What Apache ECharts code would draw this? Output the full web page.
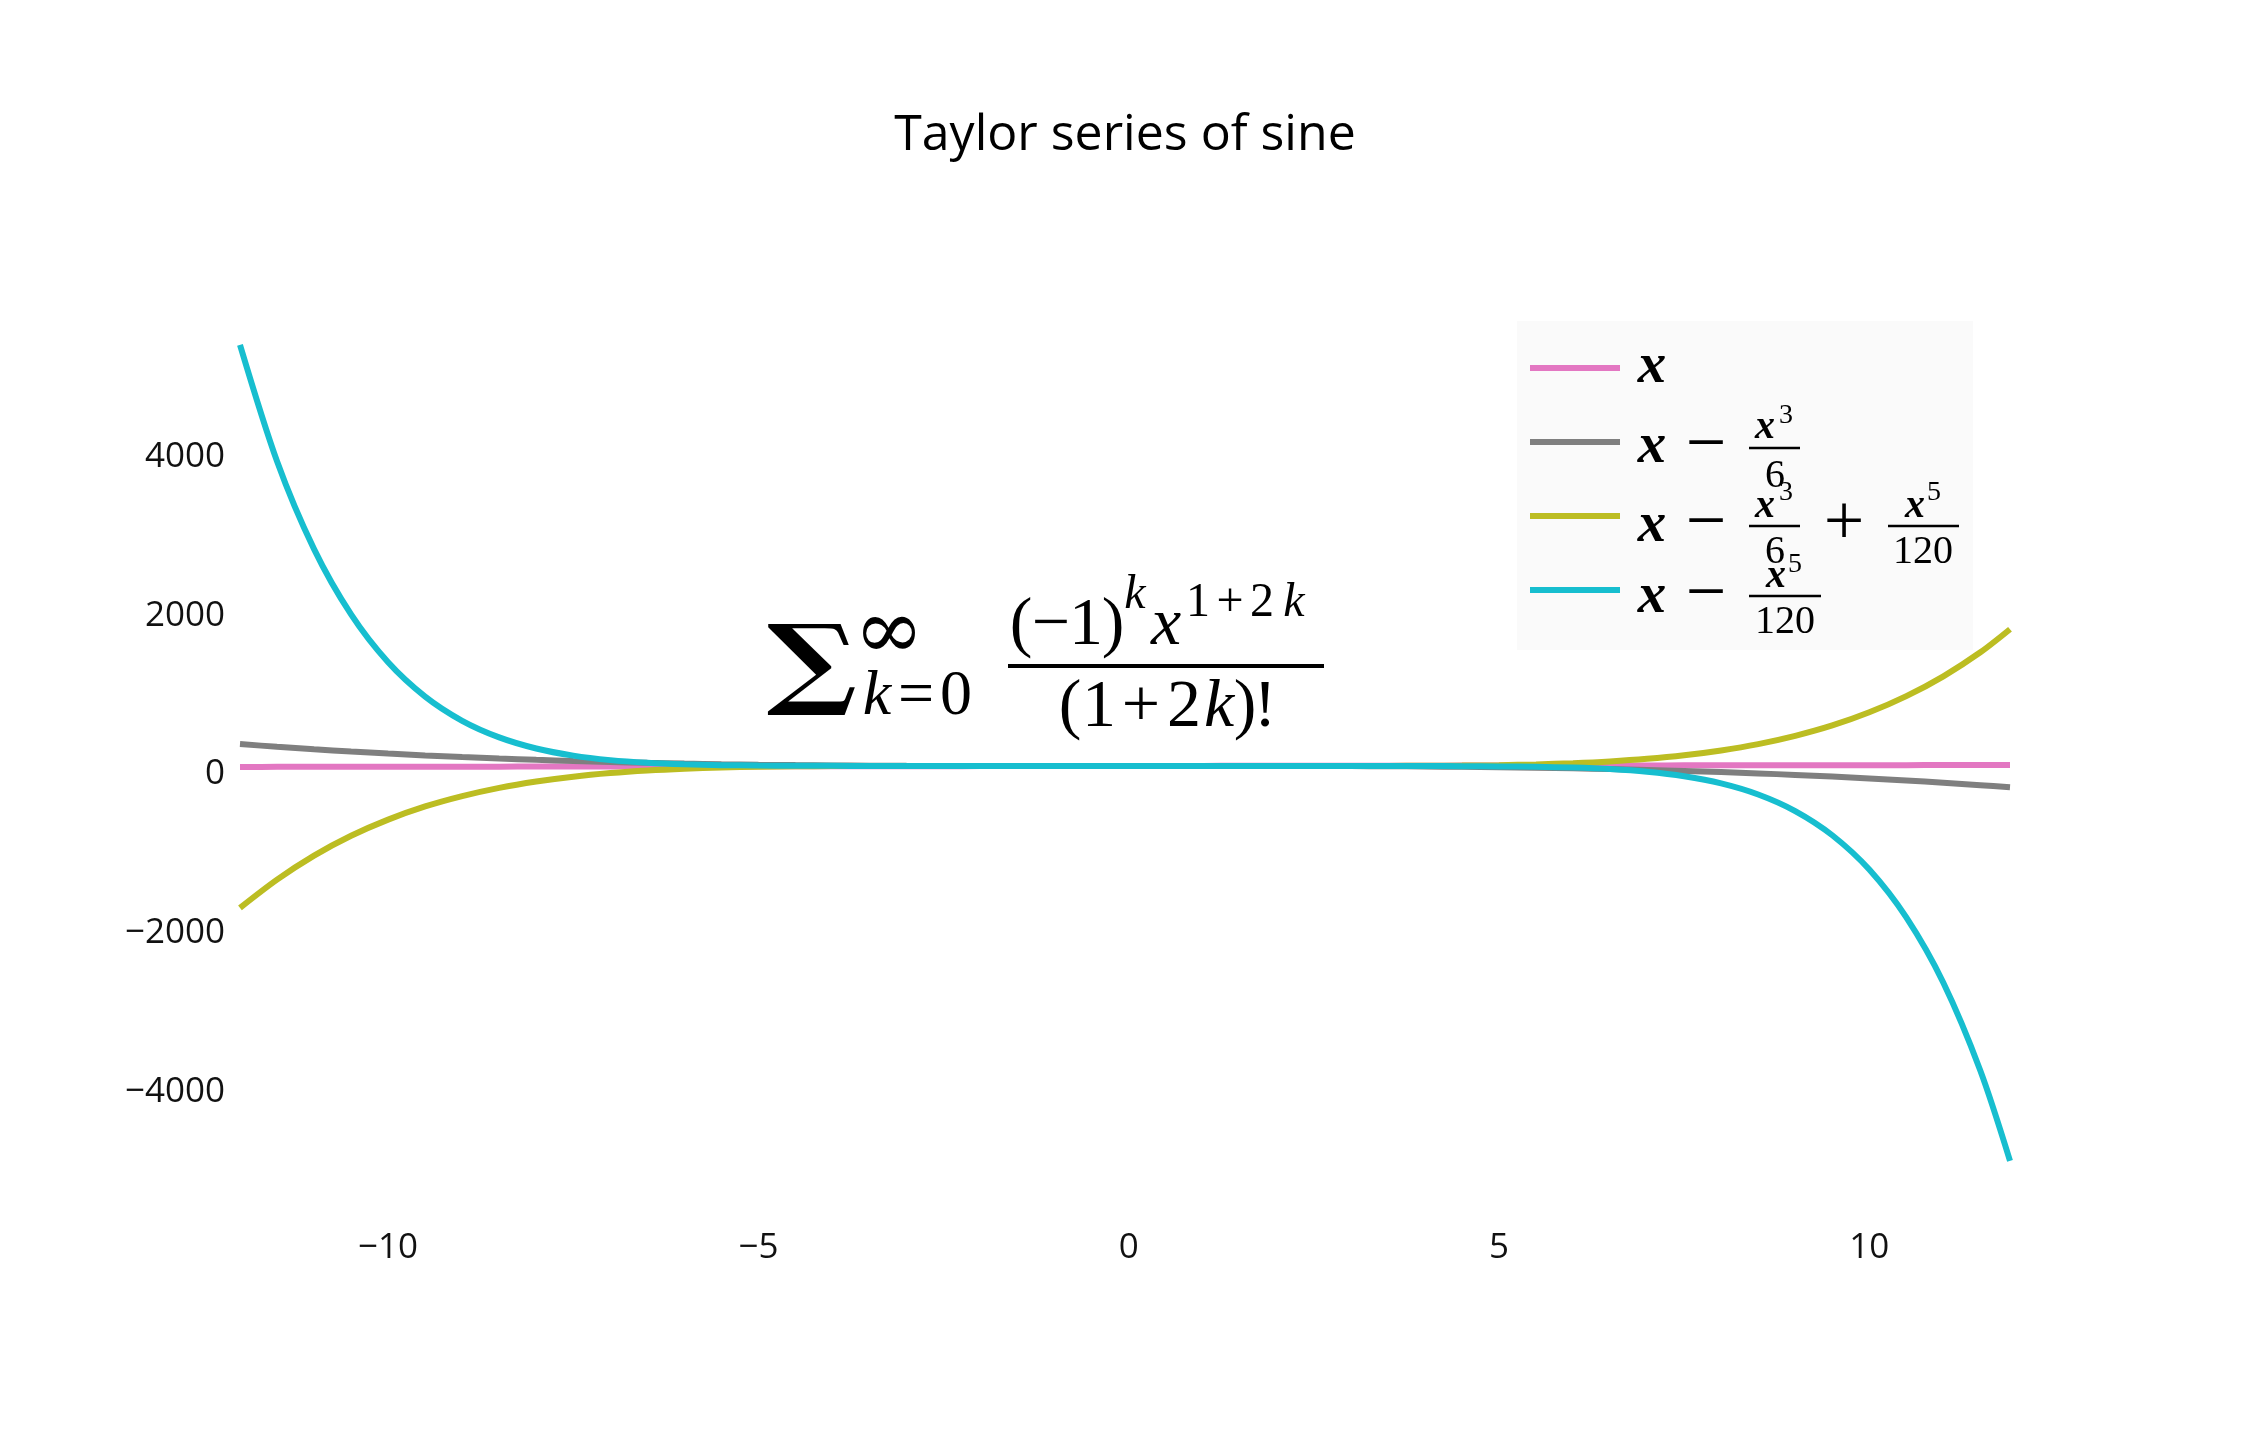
<!DOCTYPE html>
<html>
<head>
<meta charset="utf-8">
<title>Taylor series of sine</title>
<script src="https://cdn.jsdelivr.net/npm/echarts@6/dist/echarts.min.js"></script>
<style>
  html, body { margin: 0; padding: 0; background: #fff; }
  #chart { width: 2250px; height: 1446px; }
</style>
</head>
<body>
<div id="chart"></div>
<script>
// values
const xValues = [-12, -11.5, -11, -10.5, -10, -9.5, -9, -8.5, -8, -7.5, -7, -6.5, -6, -5.5, -5, -4.5, -4, -3.5, -3, -2.5, -2, -1.5, -1, -0.5,
  0, 0.5, 1, 1.5, 2, 2.5, 3, 3.5, 4, 4.5, 5, 5.5, 6, 6.5, 7, 7.5, 8, 8.5, 9, 9.5, 10, 10.5, 11, 11.5, 11.9]
const linearValues = [-12, -11.5, -11, -10.5, -10, -9.5, -9, -8.5, -8, -7.5, -7, -6.5, -6, -5.5, -5, -4.5, -4, -3.5, -3, -2.5, -2, -1.5, -1, -0.5,
  0, 0.5, 1, 1.5, 2, 2.5, 3, 3.5, 4, 4.5, 5, 5.5, 6, 6.5, 7, 7.5, 8, 8.5, 9, 9.5, 10, 10.5, 11, 11.5, 11.9]
const cubicValues = [276, 242, 210.8, 182.4, 156.7, 133.4, 112.5, 93.9, 77.3, 62.8, 50.2, 39.3, 30, 22.2, 15.8, 10.7, 6.7, 3.6, 1.5, 0.1, -0.7, -0.9, -0.8, -0.5,
  0, 0.5, 0.8, 0.9, 0.7, -0.1, -1.5, -3.6, -6.7, -10.7, -15.8, -22.2, -30, -39.3, -50.2, -62.8, -77.3, -93.9, -112.5, -133.4, -156.7, -182.4, -210.8, -242, -269]
const quinticValues = [-1790, -1434, -1131, -881, -677, -511, -380, -276, -196, -135, -90, -57.4, -34.8, -19.7, -10.2, -4.7, -1.9, -0.7, -0.5, -0.7, -0.9, -1.0, -0.8, -0.5,
  0, 0.5, 0.8, 1.0, 0.9, 0.7, 0.5, 0.7, 1.9, 4.7, 10.2, 19.7, 34.8, 57.4, 90, 135, 196, 276, 380, 511, 677, 881, 1131, 1434, 1725]
const septicValues = [5312, 3844, 2735, 1911, 1307, 874, 569, 360, 220, 130, 73.5, 39.8, 20.7, 10.5, 5.3, 2.7, 1.4, 0.5, -0.1, -0.6, -0.9, -1.0, -0.8, -0.5,
  0, 0.5, 0.8, 1.0, 0.9, 0.6, 0.1, -0.5, -1.4, -2.7, -5.3, -10.5, -20.7, -39.8, -73.5, -130, -220, -360, -569, -874, -1307, -1911, -2735, -3844, -4980]

const seriesNames = ['x', 'x − x³/6', 'x − x³/6 + x⁵/120', 'x − x⁵/120']
const seriesColors = ['#e377c2', '#7f7f7f', '#bcbd22', '#17becf']
const xTickLabels = [-10, -5, 0, 5, 10]
const yTickLabels = [-4000, -2000, 0, 2000, 4000]

const MATH_FONT = '"Liberation Serif", "DejaVu Serif", serif'
const BIG_FONT = '"DejaVu Serif", "Liberation Serif", serif'

// one glyph run, placed by centre x and baseline y
const glyph = (text, cx, baseline, size, opts = {}) => ({
  type: 'text',
  x: cx,
  y: baseline - 0.34 * size,
  z: 20,
  silent: true,
  scaleX: opts.scaleX || 1,
  style: {
    text,
    fontSize: size,
    fontFamily: opts.family || MATH_FONT,
    fontStyle: opts.italic ? 'italic' : 'normal',
    fontWeight: opts.bold ? 'bold' : 'normal',
    fill: '#000',
    align: 'center',
    verticalAlign: 'middle'
  }
})

const rule = (x1, x2, y, w) => ({
  type: 'line',
  z: 20,
  silent: true,
  shape: { x1, y1: y, x2, y2: y },
  style: { stroke: '#000', lineWidth: w }
})

const ib = { italic: true, bold: true }
const it = { italic: true }

// legend labels (typeset by hand)
const legendText = [
  glyph('x', 1652, 387, 57, ib),

  glyph('x', 1652, 467, 57, ib),
  glyph('−', 1706, 472, 72),
  rule(1749, 1800, 448, 2.7),
  glyph('x', 1765, 441, 40, ib),
  glyph('3', 1786, 425, 28),
  glyph('6', 1775, 490, 40),

  glyph('x', 1652, 546, 57, ib),
  glyph('−', 1706, 550, 72),
  rule(1749, 1800, 526, 2.7),
  glyph('x', 1765, 520, 40, ib),
  glyph('3', 1786, 502, 28),
  glyph('6', 1775, 566, 40),
  glyph('+', 1844, 550, 72),
  rule(1888, 1959, 526, 2.7),
  glyph('x', 1915, 520, 40, ib),
  glyph('5', 1934, 502, 28),
  glyph('120', 1923, 566, 40),

  glyph('x', 1652, 617, 57, ib),
  glyph('−', 1706, 621, 72),
  rule(1749, 1821, 596, 2.7),
  glyph('x', 1776, 590, 40, ib),
  glyph('5', 1795, 574, 28),
  glyph('120', 1785, 636, 40)
]

// the series formula in the middle of the plot
const formulaText = [
  glyph('∑', 812, 704, 100, { family: BIG_FONT, bold: true, scaleX: 1.2 }),
  glyph('∞', 889, 665, 84, { family: BIG_FONT }),
  glyph('k', 877, 719, 64, it),
  glyph('=', 916, 719, 64),
  glyph('0', 956, 719, 64),

  glyph('(', 1021, 649, 68),
  glyph('−', 1051, 649, 68),
  glyph('1', 1086, 649, 68),
  glyph(')', 1113, 649, 68),
  glyph('k', 1135, 612, 48, it),
  glyph('x', 1166, 649, 68, it),
  glyph('1', 1198, 620, 48),
  glyph('+', 1230, 620, 48),
  glyph('2', 1262, 620, 48),
  glyph('k', 1294, 620, 48, it),

  rule(1008, 1324, 666, 4),

  glyph('(', 1070, 731, 68),
  glyph('1', 1099, 731, 68),
  glyph('+', 1141, 731, 68),
  glyph('2', 1184, 731, 68),
  glyph('k', 1219, 731, 68, it),
  glyph(')', 1245, 731, 68),
  glyph('!', 1265, 731, 68)
]

const seriesValues = [linearValues, cubicValues, quinticValues, septicValues]
const minus = v => String(v).replace('-', '−')

const chart = echarts.init(document.getElementById('chart'))

const option = {
  animation: false,
  backgroundColor: '#fff',
  title: {
    text: 'Taylor series of sine',
    left: 'center',
    top: 106,
    padding: 0,
    textStyle: {
      fontFamily: 'Open Sans',
      fontSize: 50,
      fontWeight: 'normal',
      color: '#000',
      lineHeight: 60
    }
  },
  grid: {
    left: 240,
    right: 240,
    top: 304,
    bottom: 244
  },
  legend: {
    orient: 'vertical',
    left: 1530,
    top: 365,
    padding: 0,
    icon: 'rect',
    itemWidth: 90,
    itemHeight: 6,
    itemGap: 68,
    selectedMode: false,
    data: seriesNames,
    formatter: () => '',
    textStyle: { fontSize: 4, lineHeight: 6 }
  },
  xAxis: {
    type: 'value',
    min: -12,
    max: 11.9,
    minInterval: 5,
    maxInterval: 5,
    axisLine: { show: false },
    axisTick: { show: false },
    splitLine: { show: false },
    axisLabel: {
      margin: 26,
      fontFamily: 'Open Sans',
      fontSize: 35,
      lineHeight: 40,
      color: '#111',
      showMinLabel: false,
      showMaxLabel: false,
      formatter: v => (xTickLabels.includes(v) ? minus(v) : '')
    }
  },
  yAxis: {
    type: 'value',
    min: -5500,
    max: 5827,
    minInterval: 2000,
    maxInterval: 2000,
    axisLine: { show: false },
    axisTick: { show: false },
    splitLine: { show: false },
    axisLabel: {
      margin: 15,
      fontFamily: 'Open Sans',
      fontSize: 35,
      color: '#111',
      verticalAlign: 'top',
      lineHeight: 17,
      showMinLabel: false,
      showMaxLabel: false,
      formatter: v => (yTickLabels.includes(v) ? minus(v) : '')
    }
  },
  series: seriesNames.map((name, i) => ({
    name,
    type: 'line',
    data: xValues.map((x, j) => [x, seriesValues[i][j]]),
    symbol: 'none',
    showSymbol: false,
    smooth: 0.3,
    color: seriesColors[i],
    lineStyle: { width: 6, color: seriesColors[i] },
    z: 2 + i
  })),
  graphic: [
    {
      type: 'rect',
      z: 3,
      silent: true,
      shape: { x: 1517, y: 321, width: 456, height: 329 },
      style: { fill: '#fafafa' }
    },
    ...legendText,
    ...formulaText
  ]
}

chart.setOption(option)
</script>
</body>
</html>
